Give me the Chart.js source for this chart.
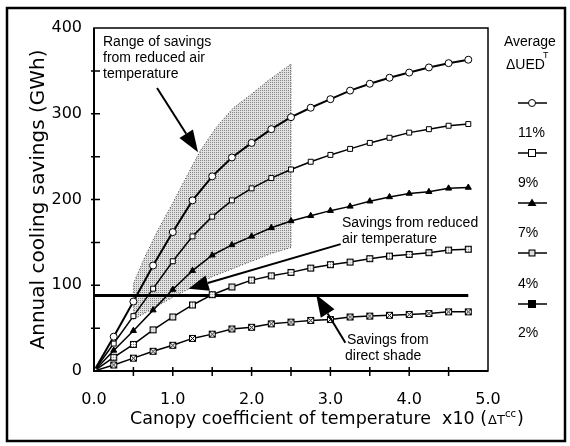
<!DOCTYPE html>
<html>
<head>
<meta charset="utf-8">
<script src="https://cdn.jsdelivr.net/npm/chart.js@4.4.0/dist/chart.umd.min.js"></script>
<style>
  html, body { margin: 0; padding: 0; background: #fff; }
  #wrap { position: relative; width: 570px; height: 446px; }
</style>
</head>
<body>
<div id="wrap"><canvas id="chart" width="570" height="446"></canvas></div>
<script>
// canopy coefficient x10
const coefX = [0, 0.25, 0.5, 0.75, 1.0, 1.25, 1.5, 1.75, 2.0, 2.25, 2.5,
  2.75, 3.0, 3.25, 3.5, 3.75, 4.0, 4.25, 4.5, 4.75];

// annual cooling savings (GWh) per average delta UED
const savings11 = [0, 40, 81, 123, 162, 199, 227, 249, 266, 282, 296, 307, 317, 327, 335, 342, 348, 354, 359, 363];
const savings9 = [0, 32, 64, 96, 128, 157, 180, 199, 213, 225, 235, 244, 252, 259, 266, 272, 278, 282, 286, 288];
const savings7 = [0, 24, 47, 71, 95, 117, 135, 147, 157, 167, 175, 181, 187, 192, 198, 203, 207, 209, 213, 214];
const savings4 = [0, 16, 31, 48, 63, 77, 89, 98, 106, 111, 115, 120, 124, 127, 131, 134, 136, 138, 141, 142];
const savings2 = [0, 7, 15, 23, 30, 38, 43, 49, 51, 55, 57, 59, 60, 63, 64, 65, 66, 67, 69, 69];

// savings from direct shade
const shadeX = [0, 4.75];
const shadeY = [88, 88];

// range of savings from reduced air temperature (outline)
const rangeX = [0.5, 0.5, 0.65, 0.81, 1.0, 1.13, 1.35, 1.55, 1.77, 2.0, 2.2, 2.5,
  2.5, 2.25, 2.0, 1.5, 1.0, 0.75, 0.5];
const rangeY = [60, 102, 134, 164, 196, 219, 257, 284, 307, 323, 338, 358,
  144, 137, 128, 110, 86, 73, 60];

const legendLabels = ['11%', '9%', '7%', '4%', '2%'];
const xTickLabels = ['0.0', '1.0', '2.0', '3.0', '4.0', '5.0'];

const toPoints = (xs, ys) => xs.map((x, i) => ({x: x, y: ys[i]}));

function markerCanvas(draw) {
  const c = document.createElement('canvas');
  c.width = 9;
  c.height = 9;
  draw(c.getContext('2d'));
  return c;
}

// small grey stippled square (4%)
const dottedSquare = markerCanvas(ctx => {
  ctx.fillStyle = '#fff';
  ctx.fillRect(1, 1, 7, 7);
  ctx.fillStyle = '#777';
  for (let i = 2; i < 7; i += 2) {
    for (let j = 2; j < 7; j += 2) ctx.fillRect(i, j, 1, 1);
  }
  ctx.strokeStyle = '#000';
  ctx.lineWidth = 1;
  ctx.strokeRect(1.5, 1.5, 6, 6);
});

// crossed square (2%)
const crossSquare = markerCanvas(ctx => {
  ctx.fillStyle = '#fff';
  ctx.fillRect(1, 1, 7, 7);
  ctx.strokeStyle = '#000';
  ctx.lineWidth = 1;
  ctx.strokeRect(1.5, 1.5, 6, 6);
  ctx.beginPath();
  ctx.moveTo(1.5, 1.5); ctx.lineTo(7.5, 7.5);
  ctx.moveTo(7.5, 1.5); ctx.lineTo(1.5, 7.5);
  ctx.stroke();
});

const canvas = document.getElementById('chart');
const mainCtx = canvas.getContext('2d');

const stipple = (() => {
  const p = document.createElement('canvas');
  p.width = 2;
  p.height = 2;
  const c = p.getContext('2d');
  c.fillStyle = '#e2e2e2';
  c.fillRect(0, 0, 2, 2);
  c.fillStyle = '#858585';
  c.fillRect(0, 0, 1, 1);
  return mainCtx.createPattern(p, 'repeat');
})();

function series(label, values, style, fill, radius, width) {
  return {
    label: label,
    data: toPoints(coefX, values),
    showLine: true,
    borderColor: '#000',
    borderWidth: width,
    pointStyle: style,
    pointRadius: radius,
    pointBackgroundColor: fill,
    pointBorderColor: '#000',
    pointBorderWidth: 1,
    order: 0
  };
}

function arrow(ctx, x1, y1, x2, y2, len, half) {
  const a = Math.atan2(y2 - y1, x2 - x1);
  const bx = x2 - len * Math.cos(a);
  const by = y2 - len * Math.sin(a);
  ctx.beginPath();
  ctx.moveTo(x1, y1);
  ctx.lineTo(bx, by);
  ctx.lineWidth = 2;
  ctx.stroke();
  ctx.beginPath();
  ctx.moveTo(x2, y2);
  ctx.lineTo(bx + half * Math.sin(a), by - half * Math.cos(a));
  ctx.lineTo(bx - half * Math.sin(a), by + half * Math.cos(a));
  ctx.closePath();
  ctx.fill();
}

const decorPlugin = {
  id: 'decor',
  afterDraw(chart) {
    const ctx = chart.ctx;
    const area = chart.chartArea;
    const xs = chart.scales.x;
    const ys = chart.scales.y;
    ctx.save();
    ctx.strokeStyle = '#000';
    ctx.fillStyle = '#000';

    // outer frame
    ctx.lineWidth = 2.5;
    ctx.strokeRect(7, 8, 558, 433);

    // plot frame
    ctx.lineWidth = 1.5;
    ctx.strokeRect(area.left, area.top, area.right - area.left, area.bottom - area.top);
    ctx.lineWidth = 2;
    ctx.beginPath();
    ctx.moveTo(area.left, area.top);
    ctx.lineTo(area.left, area.bottom);
    ctx.lineTo(area.right, area.bottom);
    ctx.stroke();

    // crossing ticks
    ctx.lineWidth = 1.5;
    ctx.beginPath();
    for (let v = 50; v < 400; v += 50) {
      const py = ys.getPixelForValue(v);
      ctx.moveTo(area.left - 3, py);
      ctx.lineTo(area.left + 6, py);
    }
    for (let v = 0.5; v < 5; v += 0.5) {
      const px = xs.getPixelForValue(v);
      ctx.moveTo(px, area.bottom - 4);
      ctx.lineTo(px, area.bottom + 5);
    }
    ctx.stroke();

    // axis titles
    ctx.textAlign = 'center';
    ctx.textBaseline = 'alphabetic';
    ctx.font = '20px "DejaVu Sans"';
    ctx.save();
    ctx.translate(44, (area.top + area.bottom) / 2);
    ctx.rotate(-Math.PI / 2);
    ctx.fillText('Annual cooling savings (GWh)', 0, 0);
    ctx.restore();

    ctx.textAlign = 'left';
    let tx = 130;
    const ty = 424;
    ctx.font = '17.5px "DejaVu Sans"';
    const main = 'Canopy coefficient of temperature  x10 (';
    ctx.fillText(main, tx, ty);
    tx += ctx.measureText(main).width + 1;
    ctx.font = '13px "DejaVu Sans"';
    ctx.fillText('\u0394T', tx, ty);
    tx += ctx.measureText('\u0394T').width;
    ctx.font = '10px "DejaVu Sans"';
    ctx.fillText('cc', tx, ty - 7);
    tx += ctx.measureText('cc').width + 1;
    ctx.font = '17.5px "DejaVu Sans"';
    ctx.fillText(')', tx, ty);

    // annotations
    ctx.font = '14px "Liberation Sans"';
    ctx.fillText('Range of savings', 103, 46);
    ctx.fillText('from reduced air', 103, 62);
    ctx.fillText('temperature', 103, 78);
    ctx.fillText('Savings from reduced', 342, 227);
    ctx.fillText('air temperature', 342, 243);
    ctx.fillText('Savings from', 347, 344);
    ctx.fillText('direct shade', 345, 360);

    const px = v => xs.getPixelForValue(v);
    const py = v => ys.getPixelForValue(v);
    arrow(ctx, px(0.80), py(330), px(1.32), py(255), 22, 8);
    arrow(ctx, px(3.13), py(148), px(1.20), py(96), 20, 8);
    arrow(ctx, px(3.19), py(33), px(2.82), py(89), 22, 8);

    // legend
    ctx.fillText('Average', 504, 46);
    ctx.fillText('\u0394UED', 506, 69);
    ctx.font = '9px "Liberation Sans"';
    ctx.fillText('T', 543, 58);
    ctx.font = '14px "Liberation Sans"';
    const legY = [103, 153, 203, 253, 304];
    const labY = [137, 187, 237, 288, 337];
    for (let i = 0; i < legendLabels.length; i++) {
      const y = legY[i];
      ctx.lineWidth = 1.5;
      ctx.beginPath();
      ctx.moveTo(518, y);
      ctx.lineTo(547, y);
      ctx.stroke();
      ctx.lineWidth = 1;
      if (i === 0) {
        ctx.beginPath();
        ctx.arc(532, y, 3.5, 0, Math.PI * 2);
        ctx.fillStyle = '#fff';
        ctx.fill();
        ctx.stroke();
      } else if (i === 1) {
        ctx.fillStyle = '#fff';
        ctx.fillRect(528.5, y - 3.5, 7, 7);
        ctx.strokeRect(528.5, y - 3.5, 7, 7);
      } else if (i === 2) {
        ctx.fillStyle = '#000';
        ctx.beginPath();
        ctx.moveTo(532, y - 4.5);
        ctx.lineTo(536.5, y + 3);
        ctx.lineTo(527.5, y + 3);
        ctx.closePath();
        ctx.fill();
      } else if (i === 3) {
        ctx.drawImage(dottedSquare, 527.5, y - 4.5);
      } else {
        ctx.fillStyle = '#000';
        ctx.fillRect(528, y - 4, 8, 8);
      }
      ctx.fillStyle = '#000';
      ctx.fillText(legendLabels[i], 518, labY[i]);
    }
    ctx.restore();
  }
};

new Chart(canvas, {
  type: 'scatter',
  data: {
    datasets: [
      series('11%', savings11, 'circle', '#fff', 3.5, 2),
      series('9%', savings9, 'rect', '#fff', 3.5, 1.5),
      series('7%', savings7, 'triangle', '#000', 3.5, 1.5),
      series('4%', savings4, dottedSquare, '#fff', 4, 1.5),
      series('2%', savings2, crossSquare, '#fff', 4, 1.5),
      {
        label: 'direct shade',
        data: toPoints(shadeX, shadeY),
        showLine: true,
        borderColor: '#000',
        borderWidth: 3,
        pointRadius: 0,
        order: 0
      },
      {
        label: 'range',
        data: toPoints(rangeX, rangeY),
        showLine: true,
        fill: 'shape',
        backgroundColor: stipple,
        borderColor: '#444',
        borderWidth: 1,
        borderDash: [1, 2],
        pointRadius: 0,
        order: 1
      }
    ]
  },
  options: {
    responsive: false,
    animation: false,
    layout: {padding: {left: 0, top: 28, right: 82, bottom: 0}},
    scales: {
      x: {
        type: 'linear',
        min: 0,
        max: 5,
        grid: {display: false, drawTicks: false},
        border: {display: false},
        afterFit: scale => { scale.height = 75; },
        ticks: {
          stepSize: 1,
          padding: 19,
          color: '#000',
          font: {family: 'DejaVu Sans', size: 16},
          callback: (v) => xTickLabels[Math.round(v)]
        }
      },
      y: {
        type: 'linear',
        min: 0,
        max: 400,
        grid: {display: false, drawTicks: false},
        border: {display: false},
        afterFit: scale => { scale.width = 94; },
        ticks: {
          stepSize: 100,
          padding: 12,
          color: '#000',
          font: {family: 'DejaVu Sans', size: 16}
        }
      }
    },
    plugins: {
      legend: {display: false},
      tooltip: {enabled: false}
    }
  },
  plugins: [decorPlugin]
});
</script>
</body>
</html>
